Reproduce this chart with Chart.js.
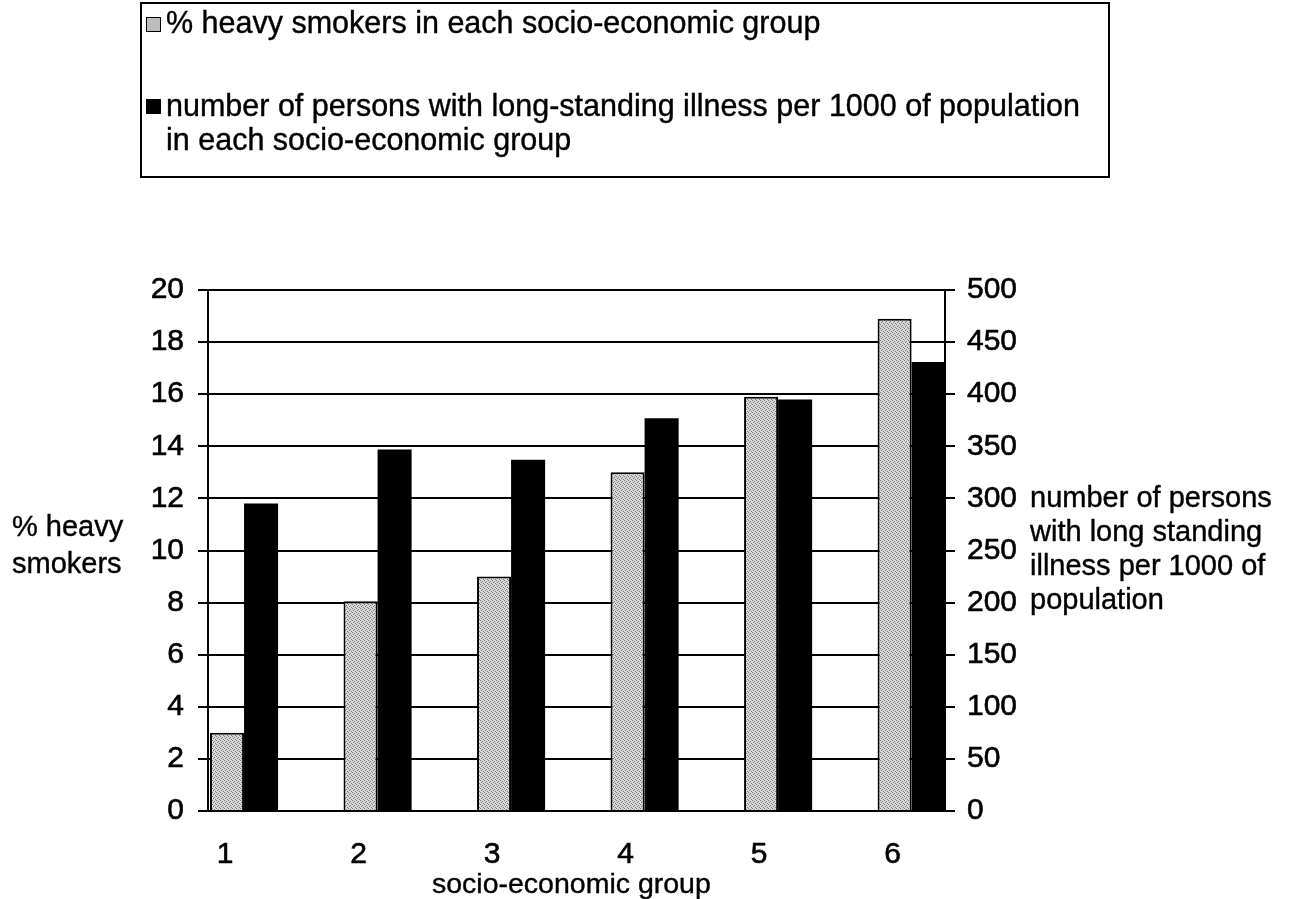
<!DOCTYPE html>
<html>
<head>
<meta charset="utf-8">
<script src="https://cdn.jsdelivr.net/npm/chart.js@4.4.1/dist/chart.umd.min.js"></script>
<style>
  body { margin: 0; background: #fff; font-family: "Liberation Sans", Arial, sans-serif; color: #000; }
  #wrap { position: relative; width: 1290px; height: 899px; overflow: hidden; }
  #chart { position: absolute; left: 0; top: 0; }
  .txt { position: absolute; font-size: 29px; line-height: 34px; white-space: nowrap; -webkit-text-stroke: 0.4px #000; }
  #legend { position: absolute; left: 140px; top: 2px; width: 966px; height: 172px; border: 2px solid #000; }
  #legend .txt { font-size: 30.5px; }
  .mark { position: absolute; width: 13px; height: 13px; border: 1.5px solid #000; }
</style>
</head>
<body>
<div id="wrap">
  <canvas id="chart" width="1290" height="899"></canvas>

  <!-- leyenda -->
  <div id="legend">
    <div class="mark" id="markGris" style="left:4px; top:13px;"></div>
    <div class="txt" style="left:24px; top:1px;">% heavy smokers in each socio-economic group</div>
    <div class="mark" style="left:4px; top:95px; background:#000;"></div>
    <div class="txt" style="left:24px; top:84px;">number of persons with long-standing illness per 1000 of population<br>in each socio-economic group</div>
  </div>

  <!-- titulos de ejes -->
  <div class="txt" style="left:12px; top:508px; line-height:37px;">% heavy<br>smokers</div>
  <div class="txt" style="left:1030px; top:480px;">number of persons<br>with long standing<br>illness per 1000 of<br>population</div>
  <div class="txt" style="left:432px; top:868px; line-height:30px; font-size:28.5px;">socio-economic group</div>
</div>

<script>
// DATOS
const grupos = [1, 2, 3, 4, 5, 6];
const fumadores = [3.0, 8.05, 9.0, 13.0, 15.9, 18.9];        // % heavy smokers (eje izq)
const enfermos = [295, 347, 337, 377, 395, 431];             // por 1000 (eje der)
const ticksIzq = [0, 2, 4, 6, 8, 10, 12, 14, 16, 18, 20];
const ticksDer = [0, 50, 100, 150, 200, 250, 300, 350, 400, 450, 500];

// textura gris punteada
function patronGris() {
    const c = document.createElement('canvas');
    c.width = 4; c.height = 4;
    const g = c.getContext('2d');
    g.fillStyle = '#d8d8d8';
    g.fillRect(0, 0, 4, 4);
    g.fillStyle = '#7a7a7a';
    g.fillRect(0, 0, 1, 1);
    g.fillRect(2, 1, 1, 1);
    g.fillRect(1, 2, 1, 1);
    g.fillRect(3, 3, 1, 1);
    return g.createPattern(c, 'repeat');
}
const gris = patronGris();
document.getElementById('markGris').style.background = '#bdbdbd';

const fuente = { family: '"Liberation Sans", Arial, sans-serif', size: 30 };

const ctx = document.getElementById('chart');

new Chart(ctx, {
    type: 'bar',
    data: {
        datasets: [{
            label: '% heavy smokers in each socio-economic group',
            data: grupos.map((g, i) => ({ x: g, y: fumadores[i] })),
            yAxisID: 'y',
            backgroundColor: gris,
            borderColor: '#000',
            borderWidth: 2,
            borderSkipped: 'bottom'
        }, {
            label: 'number of persons with long-standing illness per 1000 of population in each socio-economic group',
            data: grupos.map((g, i) => ({ x: g, y: enfermos[i] })),
            yAxisID: 'y1',
            backgroundColor: '#000',
            borderWidth: 0
        }]
    },
    options: {
        responsive: false,
        animation: false,
        devicePixelRatio: 1,
        categoryPercentage: 0.51,
        barPercentage: 1.0,
        layout: { padding: { top: 290, left: 0, right: 0, bottom: 0 } },
        plugins: { legend: { display: false }, tooltip: { enabled: false } },
        scales: {
            x: {
                type: 'linear',
                offset: false,
                min: 0.73,
                max: 6.25,
                afterBuildTicks: s => { s.ticks = grupos.map(v => ({ value: v })); },
                afterFit: s => { s.height = 88; },
                grid: { display: false, drawTicks: false, offset: false },
                border: { display: false },
                ticks: { color: '#000', font: fuente, padding: 26, labelOffset: -19, maxRotation: 0,
                         textStrokeColor: '#000', textStrokeWidth: 0.6 }
            },
            y: {
                position: 'left',
                min: 0,
                max: 20,
                afterBuildTicks: s => { s.ticks = ticksIzq.map(v => ({ value: v })); },
                afterFit: s => { s.width = 208; },
                grid: { color: '#000', lineWidth: 2, tickLength: 10 },
                border: { display: true, color: '#000', width: 2 },
                ticks: { color: '#000', font: fuente, padding: 14, textStrokeColor: '#000', textStrokeWidth: 0.6 }
            },
            y1: {
                position: 'right',
                min: 0,
                max: 500,
                afterBuildTicks: s => { s.ticks = ticksDer.map(v => ({ value: v })); },
                afterFit: s => { s.width = 345; },
                grid: { drawOnChartArea: false, color: '#000', lineWidth: 2, tickLength: 10 },
                border: { display: true, color: '#000', width: 2 },
                ticks: { color: '#000', font: fuente, padding: 12, textStrokeColor: '#000', textStrokeWidth: 0.6 }
            }
        }
    }
});
</script>
</body>
</html>
